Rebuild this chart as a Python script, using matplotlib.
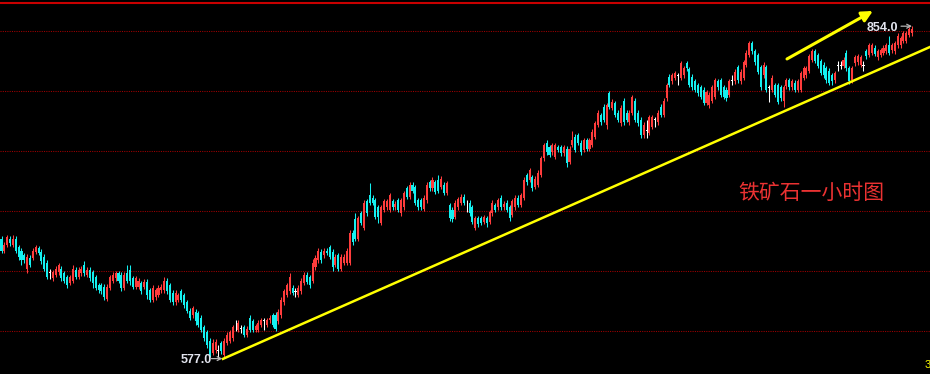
import matplotlib.pyplot as plt
import matplotlib.transforms as mtransforms
import numpy as np

plt.rcParams['font.family'] = ['Liberation Sans', 'DejaVu Sans']

# --- 1. 行情数据 (铁矿石 1 小时 K 线) ---
opens = [
    677, 667, 672, 677, 672, 677, 670, 667, 663, 652, 661, 661, 666, 669, 666, 662, 657, 649,
    644, 647, 649, 652, 648, 645, 640, 642, 651, 645, 648, 655, 647, 651, 649, 645, 638, 638, 637,
    627, 636, 642, 644, 648, 647, 636, 648, 651, 644, 637, 637, 640, 637, 641, 634, 626, 628, 630,
    634, 634, 642, 638, 632, 624, 626, 633, 630, 624, 617, 613, 616, 615, 611, 603, 599, 592, 582, 584,
    584, 590, 580, 590, 592, 594, 605, 601, 602, 603, 597, 611, 608, 601, 601, 605, 609, 605, 609, 613,
    613, 608, 613, 624, 630, 633, 636, 633, 630, 633, 640, 647, 645, 642,
    653, 659, 666, 663, 667, 670, 666, 655, 663, 652, 657, 657, 657, 682, 693, 677, 698, 686, 708, 713,
    711, 709, 703, 690, 701, 703, 701, 708, 703, 709, 698, 703, 719, 712, 722, 720, 709, 709, 702, 709,
    724, 719, 724, 726, 720, 722, 715, 705, 701, 695, 703, 707, 712, 705, 707,
    703, 686, 694, 694, 691, 694, 691, 698, 705, 703, 711, 703, 707, 703, 697, 703, 711, 705, 711, 730,
    726, 728, 720, 722, 730, 744, 757, 753, 749, 745, 753, 753, 748, 752, 741, 755, 762, 763, 757, 751,
    759, 752, 755, 762, 772, 780, 787, 772, 798, 786, 790, 782,
    773, 792, 782, 774, 782, 792, 782, 776, 763, 767, 765, 770, 776, 774, 787, 780, 794, 812, 808,
    811, 813, 811, 813, 823, 818, 812, 808, 805, 803, 801, 790, 788, 792, 795, 808, 809, 803, 801,
    797, 809, 808, 820, 808, 811, 822, 830, 840, 833, 830, 820, 813, 820, 803, 801,
    805, 805, 803, 792, 804, 809, 803, 807, 801, 801, 811, 813, 817, 826, 833, 830, 825, 822,
    819, 817, 813, 809, 821, 821, 821, 832, 819, 809, 823, 824, 822, 821, 833, 830, 832, 836, 828,
    830, 832, 833, 838, 834, 833, 838, 838, 842, 842, 847, 848,
]
closes = [
    667, 672, 678, 673, 677, 667, 662, 659, 659, 662, 655, 667, 670, 665, 658, 652, 645, 649,
    649, 652, 655, 644, 642, 638, 645, 652, 645, 651, 652, 648, 651, 644, 640, 636, 634, 633, 628,
    637, 645, 647, 648, 642, 636, 647, 642, 642, 637, 644, 642, 633, 641, 630, 626, 636, 634, 636,
    637, 642, 633, 626, 624, 632, 630, 626, 622, 617, 611, 619, 608, 605, 601, 594, 588, 580, 590, 591,
    584, 583, 592, 597, 599, 603, 605, 607, 602, 597, 602, 601, 601, 604, 607, 609, 609, 609, 611, 605,
    602, 616, 626, 633, 638, 645, 632, 633, 636, 642, 647, 641, 638, 657,
    661, 667, 659, 667, 665, 662, 653, 662, 652, 662, 662, 667, 682, 674, 677, 694, 690, 707, 698, 707,
    707, 695, 695, 703, 708, 708, 713, 703, 706, 701, 709, 715, 712, 722, 717, 707, 703, 703, 711, 722,
    719, 726, 716, 717, 727, 715, 723, 694, 693, 707, 710, 712, 707, 705, 698,
    691, 694, 689, 690, 695, 690, 699, 707, 701, 709, 703, 706, 701, 694, 708, 711, 705, 713, 726, 724,
    734, 719, 727, 732, 744, 755, 749, 747, 755, 755, 751, 748, 753, 740, 752, 759, 751, 757, 749, 759,
    752, 759, 766, 773, 782, 774, 776, 788, 787, 791, 780, 776,
    786, 774, 776, 782, 795, 776, 773, 763, 772, 767, 778, 778, 776, 782, 780, 792, 805, 805, 813,
    815, 813, 823, 819, 819, 805, 803, 801, 798, 795, 790, 799, 797, 803, 809, 803, 797, 795, 794,
    808, 809, 816, 809, 816, 824, 832, 840, 833, 824, 816, 803, 822, 801, 803, 811,
    797, 791, 794, 803, 809, 803, 808, 801, 808, 815, 819, 819, 829, 833, 825, 821, 815, 813,
    809, 807, 808, 815, 821, 821, 826, 819, 808, 819, 828, 829, 828, 821, 829, 838, 838, 831, 833,
    834, 836, 838, 832, 838, 840, 846, 844, 848, 848, 852, 852,
]
highs = [
    679, 674, 680, 679, 680, 679, 672, 669, 665, 664, 663, 669, 672, 671, 668, 664, 659, 652,
    651, 654, 657, 654, 650, 647, 647, 655, 653, 653, 654, 658, 653, 653, 651, 647, 640, 640, 639,
    639, 647, 649, 650, 650, 649, 649, 655, 655, 646, 646, 644, 642, 643, 643, 636, 638, 636, 638,
    639, 645, 644, 640, 634, 634, 632, 635, 632, 626, 619, 621, 618, 617, 613, 605, 601, 594, 593, 593,
    588, 592, 594, 599, 601, 605, 609, 609, 605, 605, 604, 613, 610, 606, 609, 611, 611, 611, 613, 615,
    616, 618, 628, 635, 640, 648, 638, 636, 638, 644, 649, 649, 647, 660,
    663, 669, 668, 669, 669, 672, 668, 664, 665, 664, 664, 669, 684, 684, 698, 696, 700, 709, 710, 723,
    713, 711, 705, 705, 710, 710, 715, 710, 708, 711, 711, 717, 721, 724, 724, 722, 711, 711, 713, 724,
    726, 728, 726, 730, 729, 724, 725, 707, 703, 709, 712, 714, 714, 709, 709,
    705, 696, 696, 696, 697, 696, 701, 709, 707, 711, 713, 708, 709, 705, 710, 713, 713, 715, 728, 732,
    736, 730, 729, 734, 746, 757, 759, 755, 757, 757, 755, 755, 755, 754, 754, 767, 764, 765, 759, 761,
    761, 761, 768, 775, 784, 782, 789, 790, 800, 793, 792, 784,
    788, 794, 784, 784, 797, 794, 784, 778, 774, 776, 780, 780, 778, 784, 789, 794, 807, 814, 815,
    817, 815, 825, 821, 825, 820, 814, 810, 807, 805, 803, 801, 799, 805, 811, 810, 811, 805, 803,
    810, 813, 818, 822, 818, 826, 834, 842, 842, 835, 832, 822, 824, 822, 805, 813,
    807, 807, 805, 805, 811, 811, 810, 809, 810, 817, 821, 821, 831, 835, 835, 832, 827, 824,
    821, 819, 815, 817, 825, 825, 828, 834, 821, 821, 830, 831, 830, 825, 835, 840, 840, 838, 835,
    836, 838, 840, 846, 840, 842, 848, 846, 850, 850, 853, 854,
]
lows = [
    665, 665, 670, 671, 670, 665, 659, 655, 657, 648, 653, 659, 664, 663, 656, 650, 643, 643,
    642, 645, 647, 642, 640, 636, 638, 640, 643, 643, 646, 646, 645, 642, 636, 634, 632, 631, 626,
    625, 634, 640, 642, 640, 633, 634, 640, 638, 635, 635, 635, 631, 635, 627, 624, 624, 626, 628,
    632, 632, 631, 624, 622, 622, 624, 624, 619, 615, 609, 611, 605, 603, 599, 592, 586, 578, 580, 582,
    577, 581, 578, 588, 590, 592, 600, 599, 598, 595, 595, 599, 599, 599, 599, 603, 601, 603, 607, 603,
    600, 606, 611, 622, 628, 631, 630, 628, 628, 631, 638, 639, 636, 640,
    651, 657, 657, 661, 663, 660, 650, 653, 650, 650, 655, 655, 655, 672, 675, 675, 688, 684, 696, 705,
    705, 693, 690, 688, 699, 701, 699, 701, 701, 699, 696, 701, 710, 710, 715, 705, 701, 701, 700, 707,
    717, 717, 714, 715, 718, 713, 713, 692, 691, 693, 701, 705, 705, 699, 696,
    689, 684, 687, 688, 689, 687, 689, 696, 699, 701, 701, 701, 699, 692, 695, 701, 703, 703, 709, 722,
    724, 717, 718, 720, 728, 742, 747, 745, 747, 743, 749, 746, 746, 737, 739, 753, 749, 755, 747, 749,
    750, 750, 753, 760, 770, 772, 774, 768, 785, 784, 778, 774,
    771, 772, 774, 772, 780, 774, 771, 761, 761, 761, 763, 768, 770, 772, 778, 778, 792, 803, 806,
    809, 805, 809, 811, 817, 803, 801, 799, 796, 793, 788, 788, 786, 790, 793, 801, 795, 793, 792,
    795, 805, 806, 807, 806, 809, 820, 828, 831, 822, 814, 801, 811, 799, 791, 799,
    795, 789, 792, 787, 802, 801, 801, 799, 799, 799, 809, 811, 815, 824, 823, 819, 813, 811,
    807, 805, 805, 807, 817, 818, 819, 817, 806, 807, 821, 822, 820, 817, 827, 828, 830, 829, 826,
    828, 830, 831, 830, 832, 831, 836, 836, 840, 840, 845, 846,
]

# 价格刻度 (虚线网格)
grid_levels = [600, 650, 700, 750, 800, 850]

# 上升趋势线 (两点) 和 箭头 (起点 -> 终点)，单位: K线序号 / 价格
trend_x = [77.6, 325.3]
trend_y = [576.8, 836.7]
arrow_tail = (275.2, 826.7)
arrow_tip = (305.3, 866.7)

title_text = '铁矿石一小时图'

# --- 2. 画图 ---
o = np.array(opens, dtype=float)
c = np.array(closes, dtype=float)
h = np.array(highs, dtype=float)
l = np.array(lows, dtype=float)
x = np.arange(len(c))

up_col = '#FF3C3C'
dn_col = '#14F0F0'
flat_col = '#FFFFFF'
cols = np.where(c > o, up_col, np.where(c < o, dn_col, flat_col))

fig = plt.figure(figsize=(9.3, 3.74), dpi=100, facecolor='black')
ax = fig.add_axes([0, 0, 1, 1])
ax.set_facecolor('black')
ax.set_axis_off()

# 网格
for lv in grid_levels:
    ax.axhline(lv, color='#A00000', linewidth=0.75, linestyle=(0, (1, 1.2)), zorder=1)
# 顶部红色实线
ax.plot([0, 1], [1 - 2.5 / 374, 1 - 2.5 / 374], color='#C80000', linewidth=1.5,
        transform=ax.transAxes, zorder=1)

# K 线
ax.vlines(x, l, h, colors=cols, linewidth=0.75, zorder=3)
body_h = np.abs(c - o)
body_b = np.minimum(o, c)
flat = body_h == 0
body_b[flat] -= 0.35
body_h[flat] = 0.7
ax.bar(x, body_h, bottom=body_b, width=0.72, color=cols, linewidth=0, zorder=3)

# 趋势线和箭头
ax.plot(trend_x, trend_y, color='#FFFF00', linewidth=1.8, zorder=4)
ax.annotate('', xy=arrow_tip, xytext=arrow_tail,
            arrowprops=dict(arrowstyle='-|>', color='#FFFF00', lw=2.2,
                            mutation_scale=16, shrinkA=0, shrinkB=0), zorder=4)

# 最高 / 最低价标注
i_hi = int(np.argmax(h))
i_lo = int(np.argmin(l))
lab_col = '#E2E4EE'
arr_col = '#B4B4B4'


def price_tag(i, p, num_dx, num_dy, tip_dx):
    ax.annotate(f'{p:.1f}', xy=(i, p), xytext=(num_dx, num_dy), textcoords='offset pixels',
                ha='right', va='center', color=lab_col, fontsize=9, fontweight='bold', zorder=5)
    tip = mtransforms.offset_copy(ax.transData, fig=fig, x=tip_dx, y=0, units='dots')
    tail = mtransforms.offset_copy(ax.transData, fig=fig, x=tip_dx - 11, y=0, units='dots')
    ax.annotate('', xy=(i, p), xycoords=tip, xytext=(i, p), textcoords=tail,
                arrowprops=dict(arrowstyle='->', color=arr_col, lw=0.9, mutation_scale=7,
                                shrinkA=0, shrinkB=0), zorder=5)


price_tag(i_hi, h[i_hi], -14, -2, 0)
price_tag(i_lo, l[i_lo], -7, -1, 4)

# 标题文字
ax.text(811 / 930, 1 - 193 / 374, title_text, transform=ax.transAxes, color='#EB3232',
        fontsize=15, ha='center', va='center', family=['Noto Sans CJK SC', 'DejaVu Sans'], zorder=5)
ax.text(925 / 930, 1 - 365 / 374, '3', transform=ax.transAxes, color='#FFFF00',
        fontsize=8, ha='left', va='center', zorder=5)

ax.set_xlim(-0.526, 325.3)
ax.set_ylim(564.17, 875.83)

fig.savefig('out.png', dpi=100, facecolor='black')
